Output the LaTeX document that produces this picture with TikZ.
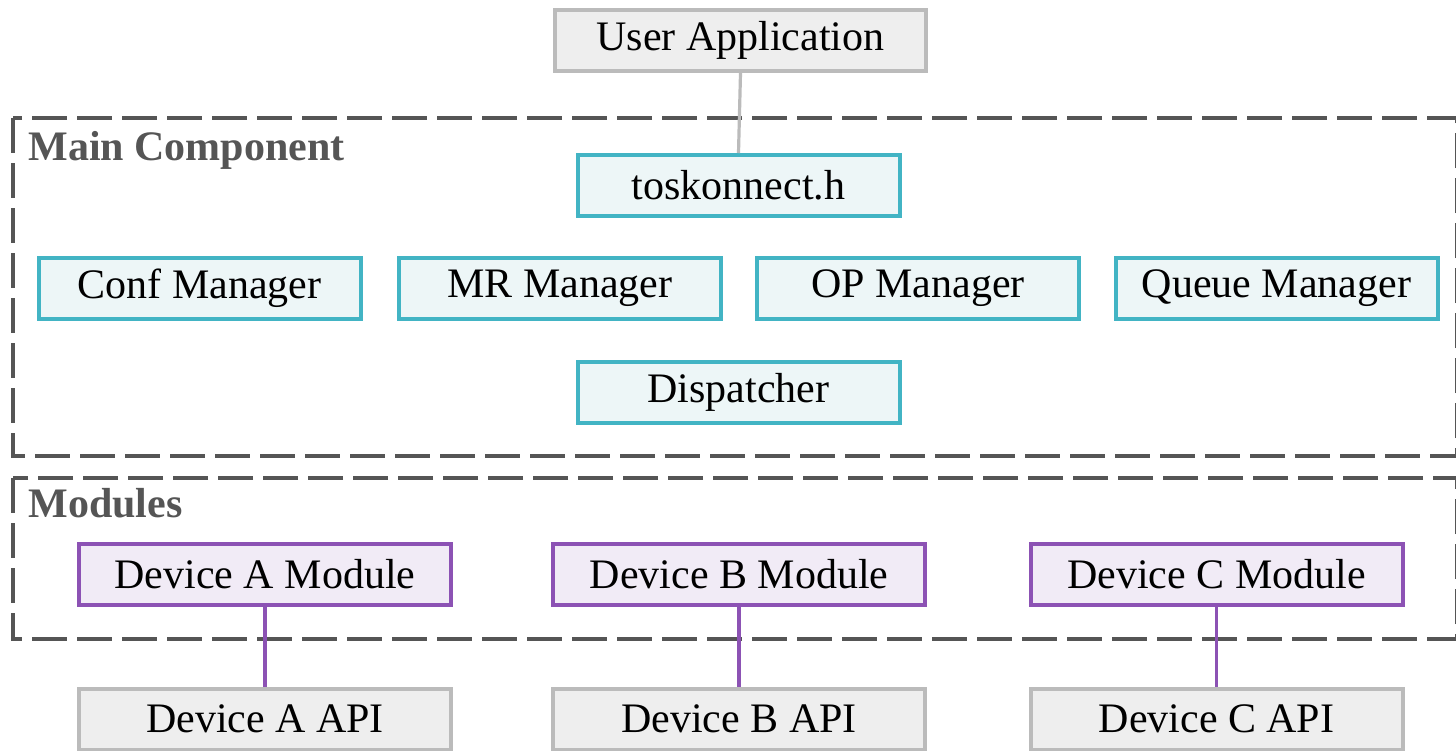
\documentclass[tikz,border=0pt]{standalone}
\usepackage{fontspec}
\setmainfont{Liberation Serif}
\definecolor{cyanb}{HTML}{42B4C4}
\definecolor{cyanf}{HTML}{EDF6F7}
\definecolor{purb}{HTML}{8C52B4}
\definecolor{purf}{HTML}{F1EBF6}
\definecolor{grayb}{HTML}{BBBBBB}
\definecolor{grayf}{HTML}{EEEEEE}
\definecolor{dashc}{HTML}{555555}
\tikzset{
  box/.style={rectangle, line width=2pt, inner sep=0pt, font=\fontsize{21}{25}\selectfont,
    minimum width=161pt, minimum height=30.5pt},
  extbox/.style={box, draw=grayb, fill=grayf},
  corebox/.style={box, draw=cyanb, fill=cyanf},
  modbox/.style={box, draw=purb, fill=purf, minimum width=186pt},
  apibox/.style={box, draw=grayb, fill=grayf, minimum width=186pt},
  group/.style={draw=dashc, line width=2pt, dash pattern=on 17.5pt off 5pt},
  grouplabel/.style={anchor=base west, inner sep=0pt, text=dashc, font=\fontsize{21}{25}\selectfont\bfseries},
  extlink/.style={draw=grayb, line width=1.6pt},
  modlink/.style={draw=purb, line width=1.6pt}
}
\begin{document}
\begin{tikzpicture}[x=0.5pt,y=-0.5pt]
\useasboundingbox (0,0) rectangle (1456,750);
% groups
\draw[group] (13,118) rectangle (1457,456);
\draw[group] (13,478) rectangle (1457,639);
\node[grouplabel] (lmain) at (28,160) {Main Component};
\node[grouplabel] (lmod) at (28,517) {Modules};
% nodes
\node[extbox, minimum width=185.5pt] (ua) at (740.5,40.5) {User Application};
\node[corebox] (tk) at (738.5,185.5) {toskonnect.h};
\node[corebox] (conf) at (199.5,288.5) {Conf Manager};
\node[corebox] (mr) at (560,288.5) {MR Manager};
\node[corebox] (op) at (918,288.5) {OP Manager};
\node[corebox] (qm) at (1276.5,288.5) {Queue Manager};
\node[corebox] (disp) at (738.5,392.5) {Dispatcher};
\node[modbox] (ma) at (265,574) {Device A Module};
\node[modbox] (mb) at (739,574) {Device B Module};
\node[modbox] (mc) at (1216.5,574) {Device C Module};
\node[apibox] (aa) at (265,719) {Device A API};
\node[apibox] (ab) at (739,719) {Device B API};
\node[apibox] (ac) at (1216.5,719) {Device C API};
% connectors
\draw[extlink] (ua.south) -- (tk.north);
\draw[modlink] (ma.south) -- (aa.north);
\draw[modlink] (mb.south) -- (ab.north);
\draw[modlink] (mc.south) -- (ac.north);
\end{tikzpicture}
\end{document}
